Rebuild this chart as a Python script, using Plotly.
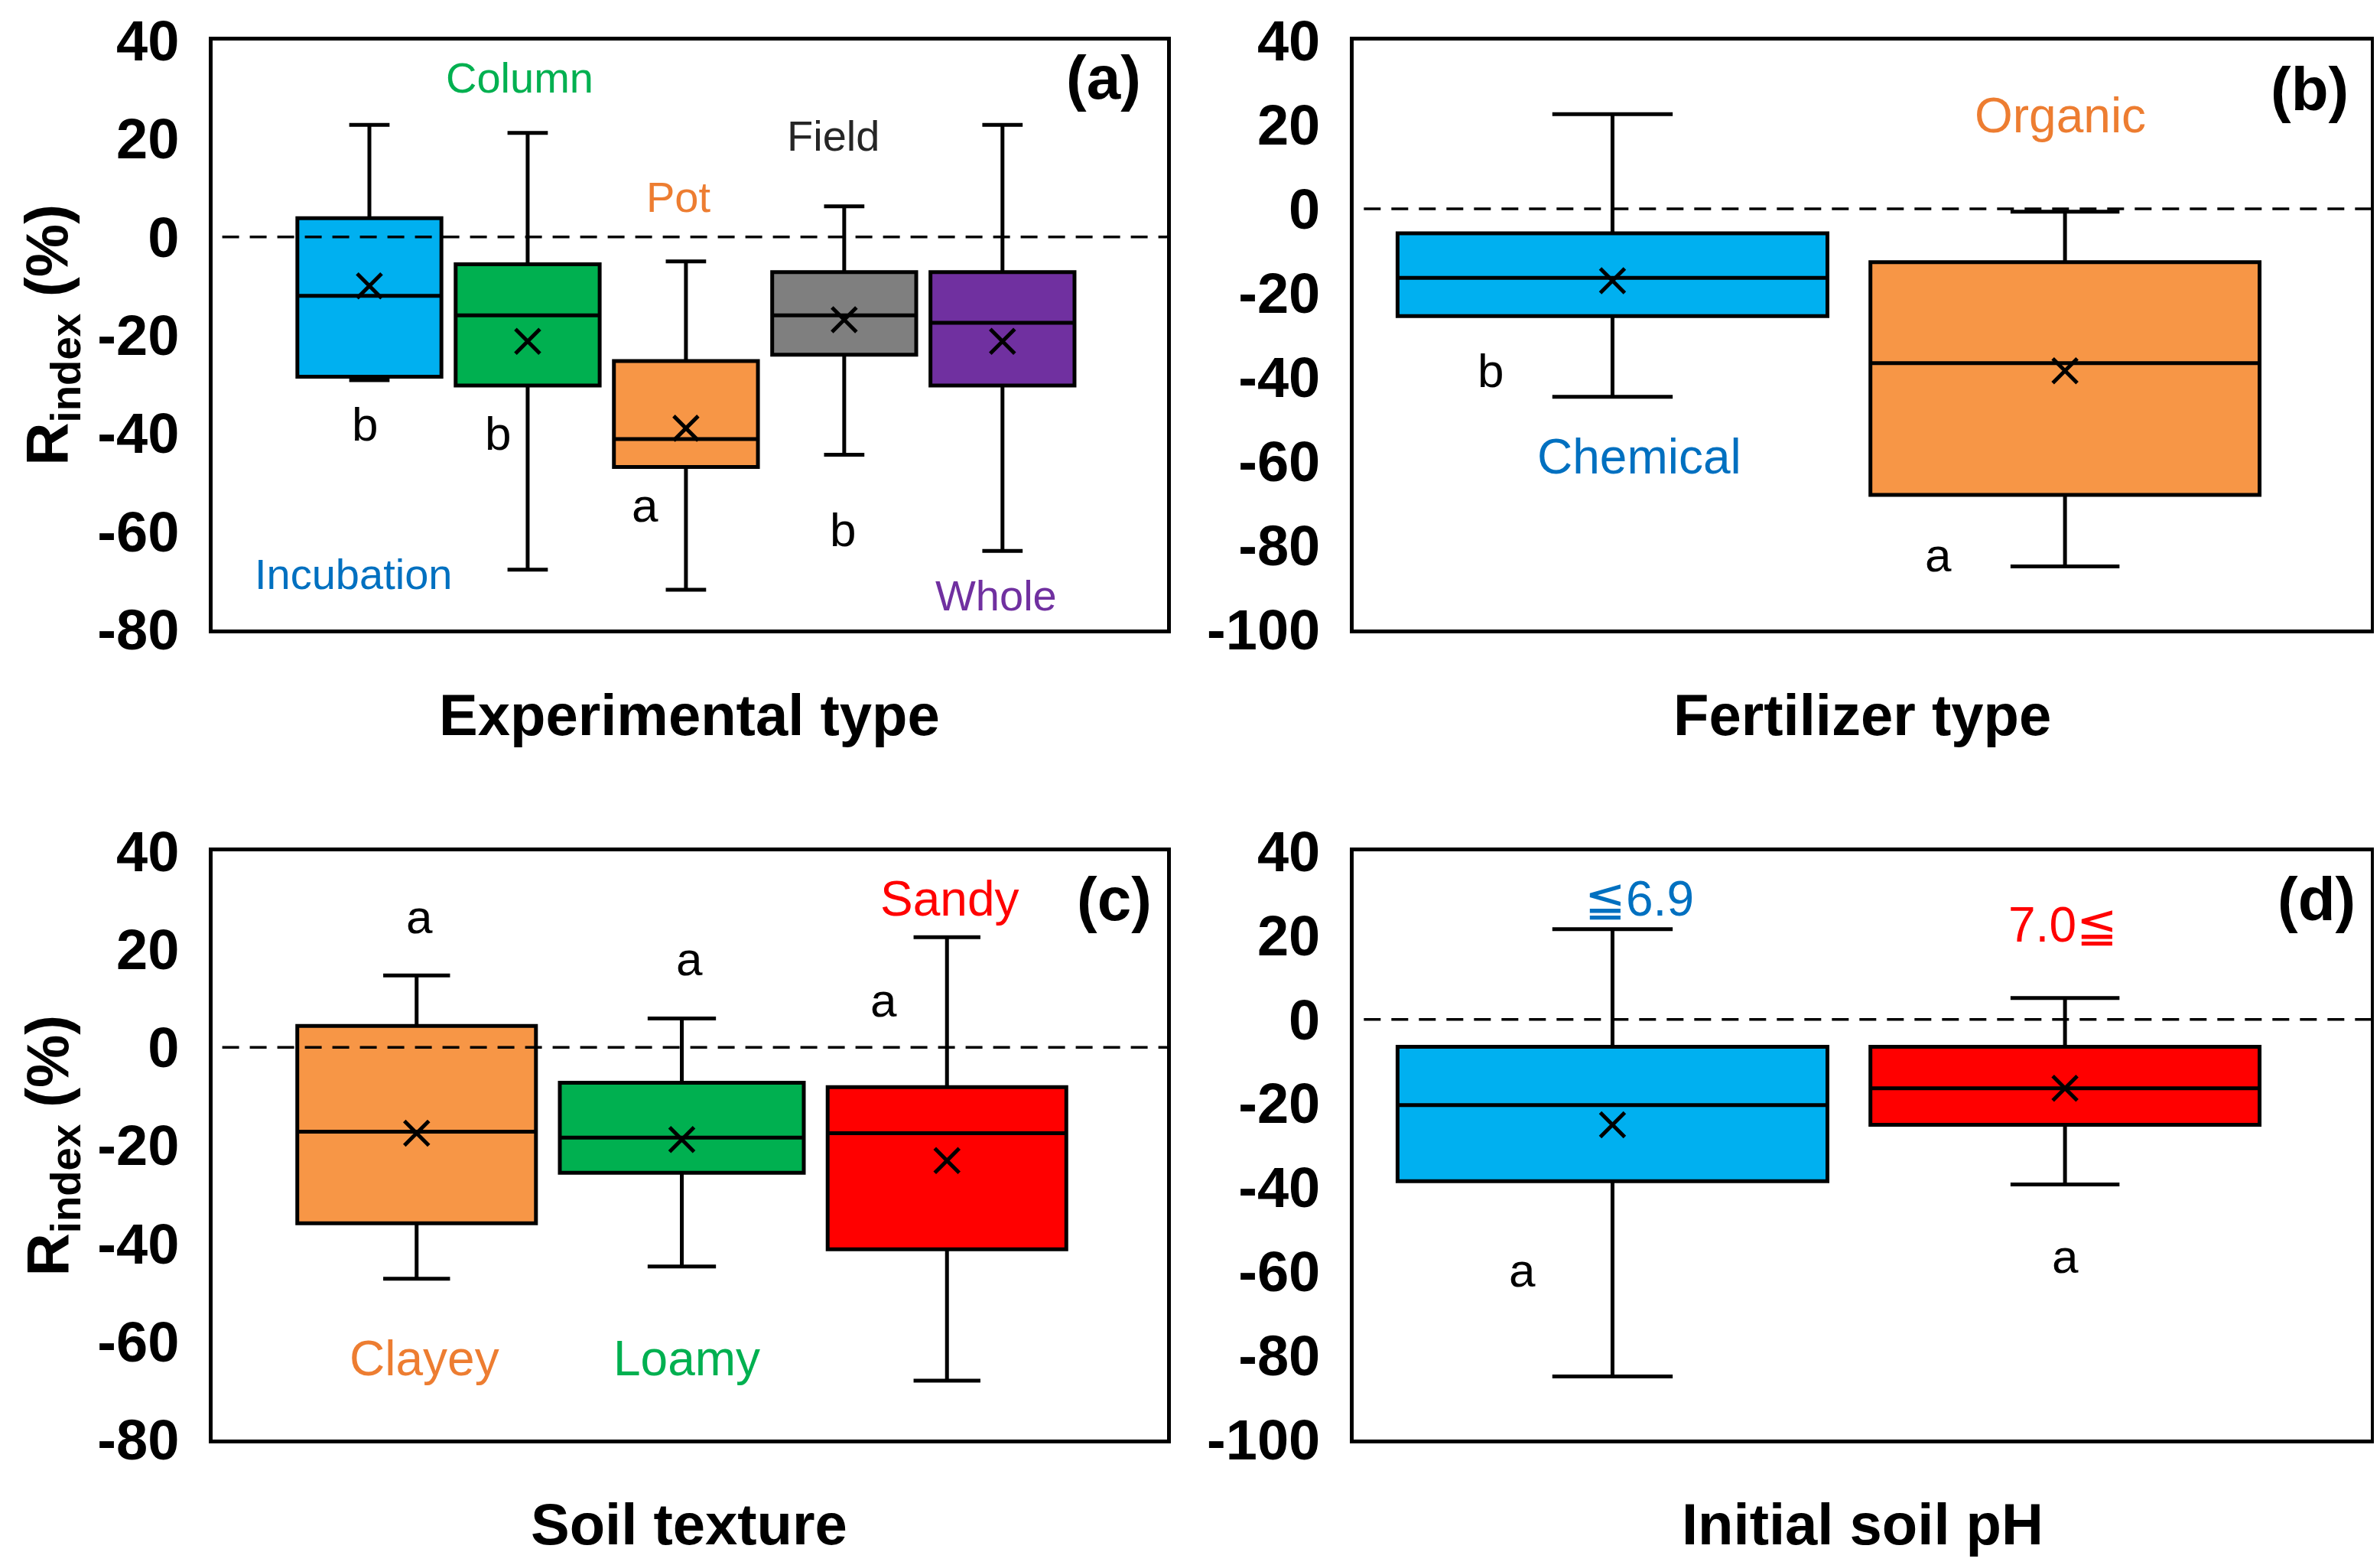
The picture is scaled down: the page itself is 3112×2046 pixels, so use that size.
import plotly.graph_objects as go

# ---------------- data ----------------
# (a) Experimental type
a_cats = ["Incubation", "Column", "Pot", "Field", "Whole"]
a_q1 = [-28.5, -30.3, -46.9, -24.0, -30.3]
a_med = [-12.0, -16.0, -41.2, -16.0, -17.5]
a_q3 = [3.8, -5.6, -25.3, -7.2, -7.2]
a_lo = [-29.2, -67.8, -71.9, -44.4, -64.0]
a_hi = [22.8, 21.2, -5.0, 6.2, 22.8]
a_mean = [-10.0, -21.3, -39.0, -16.9, -21.3]

# (b) Fertilizer type
b_cats = ["Chemical", "Organic"]
b_q1 = [-25.5, -68.0]
b_med = [-16.4, -36.7]
b_q3 = [-5.8, -12.7]
b_lo = [-44.7, -85.0]
b_hi = [22.5, -0.7]
b_mean = [-17.1, -38.5]

# (c) Soil texture
c_cats = ["Clayey", "Loamy", "Sandy"]
c_q1 = [-35.9, -25.6, -41.2]
c_med = [-17.2, -18.4, -17.5]
c_q3 = [4.4, -7.2, -8.1]
c_lo = [-47.2, -44.7, -68.0]
c_hi = [14.7, 5.9, 22.5]
c_mean = [-17.5, -18.8, -23.1]

# (d) Initial soil pH
d_cats = ["≦6.9", "7.0≦"]
d_q1 = [-38.5, -25.1]
d_med = [-20.4, -16.4]
d_q3 = [-6.5, -6.5]
d_lo = [-85.0, -39.3]
d_hi = [21.5, 5.1]
d_mean = [-25.1, -16.4]

# tick values / labels
yt_ac = [40, 20, 0, -20, -40, -60, -80]
yt_bd = [40, 20, 0, -20, -40, -60, -80, -100]
yl_ac = ["40", "20", "0", "-20", "-40", "-60", "-80"]
yl_bd = ["40", "20", "0", "-20", "-40", "-60", "-80", "-100"]

# ---------------- style ----------------
BLUE = "#00B0F0"
GREEN = "#00B050"
ORANGE = "#F79646"
GRAY = "#7F7F7F"
PURPLE = "#7030A0"
RED = "#FF0000"
T_BLUE = "#0070C0"
T_ORANGE = "#ED7D31"
FONT = "Liberation Sans, Arial, sans-serif"

panels = [
    dict(cats=a_cats, q1=a_q1, med=a_med, q3=a_q3, lo=a_lo, hi=a_hi, mean=a_mean,
         colors=[BLUE, GREEN, ORANGE, GRAY, PURPLE], widths=[0.91] * 5,
         xa="x", ya="y"),
    dict(cats=b_cats, q1=b_q1, med=b_med, q3=b_q3, lo=b_lo, hi=b_hi, mean=b_mean,
         colors=[BLUE, ORANGE], widths=[0.95, 0.86], xa="x2", ya="y2"),
    dict(cats=c_cats, q1=c_q1, med=c_med, q3=c_q3, lo=c_lo, hi=c_hi, mean=c_mean,
         colors=[ORANGE, GREEN, RED], widths=[0.9, 0.92, 0.9], xa="x3", ya="y3"),
    dict(cats=d_cats, q1=d_q1, med=d_med, q3=d_q3, lo=d_lo, hi=d_hi, mean=d_mean,
         colors=[BLUE, RED], widths=[0.95, 0.86], xa="x4", ya="y4"),
]

fig = go.Figure()
for p in panels:
    for i, cat in enumerate(p["cats"]):
        fig.add_trace(go.Box(
            x=[cat], q1=[p["q1"][i]], median=[p["med"][i]], q3=[p["q3"][i]],
            lowerfence=[p["lo"][i]], upperfence=[p["hi"][i]],
            fillcolor=p["colors"][i], line=dict(color="black", width=5),
            width=p["widths"][i], whiskerwidth=0.28, boxpoints=False,
            xaxis=p["xa"], yaxis=p["ya"], showlegend=False, hoverinfo="skip",
        ))
    fig.add_trace(go.Scatter(
        x=p["cats"], y=p["mean"], mode="markers",
        marker=dict(symbol="x-thin", size=32, line=dict(color="black", width=5), color="black"),
        xaxis=p["xa"], yaxis=p["ya"], showlegend=False, hoverinfo="skip",
    ))

dom_left = [0.0868, 0.4878]
dom_right = [0.5662, 0.9936]
dom_top = [0.6017, 0.978]
dom_bot = [0.0841, 0.4599]

tickfont = dict(family=FONT, size=74, color="black", weight="bold")


def xax(cats, rng, dom, anchor):
    return dict(type="category", categoryarray=cats, categoryorder="array",
                range=rng, domain=dom, anchor=anchor, showticklabels=False,
                ticks="", showgrid=False, zeroline=False, showline=True,
                linecolor="black", linewidth=5, mirror=True, automargin=False)


def yax(rng, tv, tt, dom, anchor):
    return dict(range=rng, tickmode="array", tickvals=tv, ticktext=tt,
                domain=dom, anchor=anchor,
                showgrid=False, zeroline=False, showline=True, linecolor="black",
                linewidth=5, mirror=True, ticks="", tickfont=tickfont,
                ticklabelstandoff=24, automargin=False)


fig.update_layout(
    xaxis=xax(a_cats, [-0.99, 5.04], dom_left, "y"),
    yaxis=yax([-80, 40], yt_ac, yl_ac, dom_top, "x"),
    xaxis2=xax(b_cats, [-0.572, 1.676], dom_right, "y2"),
    yaxis2=yax([-100, 40], yt_bd, yl_bd, dom_top, "x2"),
    xaxis3=xax(c_cats, [-0.769, 2.83], dom_left, "y3"),
    yaxis3=yax([-80, 40], yt_ac, yl_ac, dom_bot, "x3"),
    xaxis4=xax(d_cats, [-0.572, 1.676], dom_right, "y4"),
    yaxis4=yax([-100, 40], yt_bd, yl_bd, dom_bot, "x4"),
    width=3112, height=2046, margin=dict(l=0, r=0, t=0, b=0, autoexpand=False),
    paper_bgcolor="white", plot_bgcolor="white", boxmode="overlay",
    font=dict(family=FONT, color="black"),
)

# dashed zero lines
for xa, ya in [("x", "y"), ("x2", "y2"), ("x3", "y3"), ("x4", "y4")]:
    fig.add_shape(type="line", xref=f"{xa} domain", yref=ya, x0=0.01, x1=1, y0=0, y1=0,
                  line=dict(color="black", width=3.5, dash="22px,14px"), layer="above")

annots = []


def txt(text, x, y, xr, yr, color="black", size=56, bold=False):
    annots.append(dict(text=f"<b>{text}</b>" if bold else text, x=x, y=y, xref=xr, yref=yr,
                       showarrow=False, font=dict(family=FONT, size=size, color=color),
                       xanchor="center", yanchor="middle"))


# panel (a)
txt("Column", 0.95, 32.5, "x", "y", GREEN, 56)
txt("Field", 2.93, 20.6, "x", "y", "#262626", 56)
txt("Pot", 1.95, 8.1, "x", "y", T_ORANGE, 56)
txt("Incubation", -0.1, -68.7, "x", "y", T_BLUE, 56)
txt("Whole", 3.96, -73.1, "x", "y", PURPLE, 56)
txt("b", -0.03, -38.1, "x", "y", "black", 62)
txt("b", 0.81, -40.0, "x", "y", "black", 62)
txt("a", 1.74, -54.7, "x", "y", "black", 62)
txt("b", 2.99, -59.7, "x", "y", "black", 62)
txt("(a)", 4.64, 32.5, "x", "y", "black", 80, True)

# panel (b)
txt("Organic", 0.99, 22.2, "x2", "y2", T_ORANGE, 64)
txt("(b)", 1.54, 28.4, "x2", "y2", "black", 80, True)
txt("b", -0.27, -38.5, "x2", "y2", "black", 62)
txt("Chemical", 0.06, -58.9, "x2", "y2", T_BLUE, 64)
txt("a", 0.72, -82.2, "x2", "y2", "black", 62)

# panel (c)
txt("a", 0.01, 26.6, "x3", "y3", "black", 62)
txt("a", 1.03, 18.1, "x3", "y3", "black", 62)
txt("a", 1.76, 9.7, "x3", "y3", "black", 62)
txt("Sandy", 2.01, 30.3, "x3", "y3", RED, 64)
txt("(c)", 2.63, 30.3, "x3", "y3", "black", 80, True)
txt("Clayey", 0.03, -63.4, "x3", "y3", T_ORANGE, 64)
txt("Loamy", 1.02, -63.4, "x3", "y3", GREEN, 64)

# panel (d)
txt("≦6.9", 0.06, 28.7, "x4", "y4", T_BLUE, 64)
txt("7.0≦", 0.995, 22.5, "x4", "y4", RED, 64)
txt("(d)", 1.556, 28.7, "x4", "y4", "black", 80, True)
txt("a", -0.2, -59.6, "x4", "y4", "black", 62)
txt("a", 1.0, -56.4, "x4", "y4", "black", 62)

# axis titles
txt("Experimental type", 0.287, 0.547, "paper", "paper", "black", 76, True)
txt("Fertilizer type", 0.780, 0.547, "paper", "paper", "black", 76, True)
txt("Soil texture", 0.287, 0.030, "paper", "paper", "black", 76, True)
txt("Initial soil pH", 0.780, 0.030, "paper", "paper", "black", 76, True)
for yc in [0.79, 0.272]:
    annots.append(dict(text="<b>R<sub>index</sub> (%)</b>", x=0.019, y=yc, xref="paper",
                       yref="paper", showarrow=False, textangle=-90,
                       font=dict(family=FONT, size=78, color="black"),
                       xanchor="center", yanchor="middle"))

fig.update_layout(annotations=annots)
fig.write_html("out.html")
